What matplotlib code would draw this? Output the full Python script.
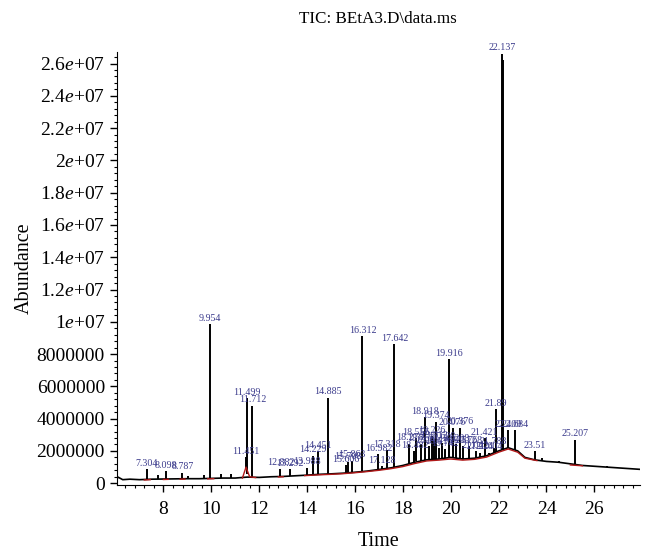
import numpy as np
import matplotlib
matplotlib.use('Agg')
import matplotlib.pyplot as plt
from matplotlib.ticker import MultipleLocator, FuncFormatter

plt.rcParams['font.family'] = ['Liberation Serif', 'DejaVu Serif']
plt.rcParams['mathtext.fontset'] = 'custom'
plt.rcParams['mathtext.rm'] = 'Liberation Serif'
plt.rcParams['mathtext.it'] = 'Liberation Serif:italic'

nan = np.nan

# baseline of the trace (time, abundance in millions)
base_t = [6.05, 6.1, 6.3, 6.6, 7.0, 7.5, 8.0, 8.5, 9.0, 9.5, 10.0, 10.5, 11.0, 11.5, 12.0,
          12.5, 13.0, 13.5, 14.0, 14.5, 15.0, 15.5, 16.0, 16.5, 17.0, 17.5, 18.0, 18.5,
          19.0, 19.5, 20.0, 20.5, 21.0, 21.5, 22.0, 22.4, 22.8, 23.1, 23.5, 24.0, 24.5,
          25.0, 25.5, 26.0, 26.5, 27.0, 27.5, 27.9]
base_v = [0.25, 0.38, 0.22, 0.25, 0.22, 0.25, 0.26, 0.27, 0.28, 0.28, 0.3, 0.32, 0.32,
          0.38, 0.36, 0.4, 0.42, 0.46, 0.5, 0.55, 0.58, 0.62, 0.68, 0.75, 0.85, 0.95,
          1.1, 1.3, 1.45, 1.5, 1.6, 1.5, 1.55, 1.7, 2.0, 2.2, 2.0, 1.6, 1.45, 1.35, 1.3,
          1.2, 1.1, 1.05, 1.0, 0.95, 0.9, 0.86]

# integration baseline (red)
red_t = [7.2, 7.45, nan, 8.0, 8.2, nan, 8.7, 8.9, nan, 9.85, 10.1, nan, 11.3, 11.45,
         11.6, 11.85, nan, 12.8, 13.0, nan, 13.9, 14.5, 15.0, 15.5, 16.0, 16.5, 17.0,
         17.5, 18.0, 18.5, 19.0, 19.5, 20.0, 20.5, 21.0, 21.5, 22.0, 22.4, 22.8, 23.1,
         23.6, nan, 25.0, 25.5]
red_v = [0.2, 0.22, nan, 0.23, 0.24, nan, 0.25, 0.26, nan, 0.27, 0.28, nan, 0.32, 1.0,
         0.4, 0.35, nan, 0.39, 0.4, nan, 0.47, 0.52, 0.55, 0.59, 0.65, 0.72, 0.8, 0.9,
         1.03, 1.22, 1.38, 1.43, 1.5, 1.43, 1.48, 1.62, 1.92, 2.12, 1.92, 1.55, 1.4, nan,
         1.13, 1.08]

# peaks: retention time, apex, foot (millions) and label
peak_t = [7.304, 7.79, 8.098, 8.787, 9.02, 9.70, 9.954, 10.40, 10.82, 11.451, 11.499,
          11.712, 12.46, 12.882, 13.292, 13.988, 14.229, 14.451, 14.885, 15.606, 15.708,
          15.863, 16.312, 16.982, 17.128, 17.318, 17.642,
          18.278, 18.482, 18.556, 18.762, 18.918, 19.104, 19.226, 19.312, 19.374, 19.516,
          19.628, 19.742, 19.916, 20.076, 20.208, 20.376, 20.512, 20.768, 21.042, 21.224,
          21.421, 21.604, 21.788, 21.89, 22.137, 22.17, 22.409, 22.684,
          23.51, 23.80, 24.53, 25.207, 26.53]
peak_h = [0.85, 0.5, 0.75, 0.65, 0.45, 0.5, 9.85, 0.55, 0.55, 1.6, 5.25, 4.8, 0.45, 0.9,
          0.85, 0.95, 1.7, 2.0, 5.3, 1.1, 1.3, 1.4, 9.1, 1.8, 1.05, 2.05, 8.6,
          2.45, 2.0, 2.8, 2.4, 4.1, 2.3, 2.9, 2.6, 3.8, 2.2, 2.5, 2.1, 7.7, 3.4, 2.4, 3.45,
          2.3, 2.3, 2.0, 1.9, 2.8, 1.9, 2.2, 4.6, 26.6, 26.2, 3.3, 3.3,
          2.0, 1.55, 1.4, 2.7, 1.05]
peak_base = [0.22, 0.25, 0.26, 0.27, 0.28, 0.29, 0.3, 0.32, 0.32, 0.9, 0.6, 0.38, 0.4,
             0.41, 0.44, 0.5, 0.52, 0.54, 0.57, 0.63, 0.65, 0.67, 0.72, 0.84, 0.87, 0.92,
             1.0, 1.2, 1.3, 1.35, 1.4, 1.45, 1.48, 1.5, 1.5, 1.52, 1.5, 1.52, 1.55, 1.6,
             1.58, 1.55, 1.52, 1.5, 1.52, 1.56, 1.62, 1.68, 1.8, 1.9, 1.95, 2.05, 2.1,
             2.2, 2.05, 1.45, 1.4, 1.3, 1.15, 1.0]
peak_label = ['7.304', '', '8.098', '8.787', '', '', '9.954', '', '', '11.451', '11.499',
              '11.712', '', '12.882', '13.292', '13.988', '14.229', '14.451', '14.885',
              '15.606', '15.708', '15.863', '16.312', '16.982', '17.128', '17.318',
              '17.642',
              '18.278', '18.482', '18.556', '18.762', '18.918', '19.104', '19.226',
              '19.312', '19.374', '19.516', '19.628', '19.742', '19.916', '20.076',
              '20.208', '20.376', '20.512', '20.768', '21.042', '21.224', '21.421',
              '21.604', '21.788', '21.89', '22.137', '', '22.409', '22.684',
              '23.51', '', '', '25.207', '']

scale = 1e6

fig = plt.figure(figsize=(6.45, 5.56), dpi=100)
ax = fig.add_axes([0.181, 0.128, 0.811, 0.778])

ax.plot(base_t, np.array(base_v) * scale, color='black', lw=1.2, zorder=2)
ax.vlines(peak_t, np.array(peak_base) * scale, np.array(peak_h) * scale,
          color='black', lw=1.4, zorder=2)
ax.plot(red_t, np.array(red_v) * scale, color='#b01818', lw=1.0, zorder=3)

for t, h, lab in zip(peak_t, peak_h, peak_label):
    if lab:
        ax.annotate(lab, (t, h * scale), xytext=(0, 1), textcoords='offset points',
                    ha='center', va='bottom', fontsize=7.2, color='#3b3b8c', zorder=4)

ax.set_xlim(6.05, 27.9)
ax.set_ylim(-0.1e6, 2.67e7)
ax.xaxis.set_major_locator(MultipleLocator(2))
ax.xaxis.set_minor_locator(MultipleLocator(0.4))
ax.yaxis.set_major_locator(MultipleLocator(2e6))
ax.yaxis.set_minor_locator(MultipleLocator(4e5))


def ylab(v, pos):
    if v < 1e7:
        return '%d' % round(v)
    m = v / 1e7
    s = ('%.1f' % m).rstrip('0').rstrip('.')
    return s + r'$\mathit{e}$+07'


ax.yaxis.set_major_formatter(FuncFormatter(ylab))
ax.xaxis.set_major_formatter(FuncFormatter(lambda v, p: '%d' % v))

for s in ['top', 'right']:
    ax.spines[s].set_visible(False)
ax.tick_params(which='major', direction='out', length=5, width=1, labelsize=14)
ax.tick_params(which='minor', direction='out', length=2.5, width=0.8)
ax.tick_params(axis='x', which='major', pad=7)

ax.set_title('TIC: BEtA3.D\\data.ms', fontsize=12.3, pad=21)
ax.set_xlabel('Time', fontsize=14.5, labelpad=10)
ax.set_ylabel('Abundance', fontsize=14.5, labelpad=2)

plt.savefig('out.png', dpi=100)
